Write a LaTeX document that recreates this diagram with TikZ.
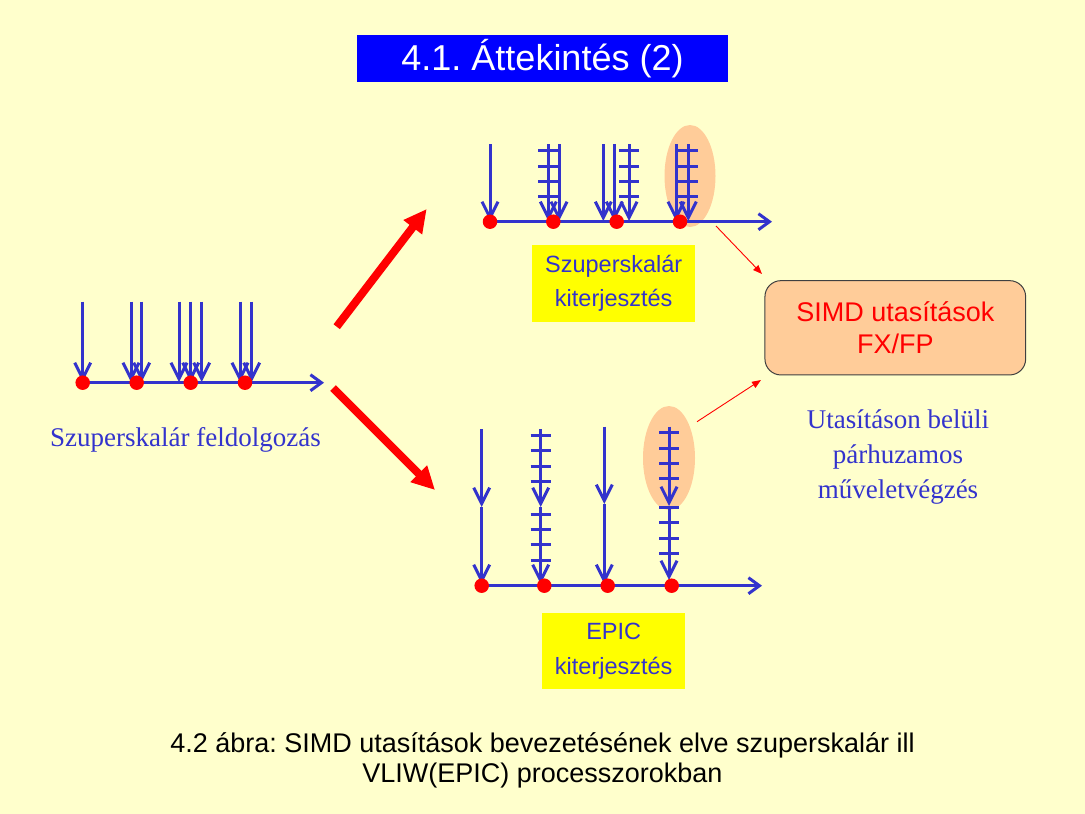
\documentclass[tikz,border=0pt]{standalone}
\usepackage{fontspec}
\setmainfont{Liberation Sans}
\newfontfamily\serifT{Liberation Serif}
\usetikzlibrary{arrows.meta,shapes.geometric}
\definecolor{bgc}{RGB}{255,255,204}
\definecolor{lblue}{RGB}{51,51,204}
\definecolor{peach}{RGB}{255,204,153}
\definecolor{ttlblue}{RGB}{0,0,255}
\definecolor{ylw}{RGB}{255,255,0}
\frenchspacing
\newcommand{\tickset}[2]{\foreach \t in {#2} \draw[tickln] (#1-10,\t) -- (#1+10,\t);}
\begin{document}
\begin{tikzpicture}[x=1pt,y=-1pt,
  bl/.style={draw=lblue,line width=3pt,-{Straight Barb[length=16pt,width=16pt]}},
  axisln/.style={draw=lblue,line width=3pt,-{Straight Barb[length=11pt,width=16pt]}},
  tickln/.style={draw=lblue,line width=3pt},
  dot/.style={circle,fill=red,inner sep=0pt,minimum size=14.5pt},
  hilite/.style={ellipse,fill=peach,inner sep=0pt},
  bigarrow/.style={draw=red,line width=8pt,-{Triangle[length=23pt,width=22pt]}},
  thinarrow/.style={draw=red,line width=0.9pt,-{Triangle[length=9pt,width=7pt]}},
  ybox/.style={fill=ylw,text=lblue,align=center,font=\fontsize{23.5}{34.7}\selectfont},
  bluetext/.style={text=lblue,align=center,font=\serifT\fontsize{27}{35}\selectfont},
]
\fill[bgc] (0,0) rectangle (1085,814);
\useasboundingbox (0,0) rectangle (1085,814);

% title
\node[fill=ttlblue,text=white,minimum width=371pt,minimum height=47pt,inner sep=0pt,
  font=\fontsize{36}{40}\selectfont] (title) at (542.5,58.5) {4.1. Áttekintés (2)};

% ---------- left cluster ----------
\coordinate (las) at (76,382.7);
\coordinate (lae) at (324,382.7);
\draw[axisln] (las) -- (lae);
\foreach \x in {82.7,131,141.7,179,190.7,201.7,240,251.7}
  \draw[bl] (\x,301.7) -- (\x,382);
\node[dot] (l1) at (82.7,382.7) {};
\node[dot] (l2) at (136.7,382.7) {};
\node[dot] (l3) at (190.7,382.7) {};
\node[dot] (l4) at (245,382.7) {};
\node[bluetext] (lbl) at (185.5,440) {Szuperskalár feldolgozás};

% ---------- big red arrows ----------
\coordinate (bu0) at (336.7,326.7);
\coordinate (bu1) at (426.7,209);
\coordinate (bd0) at (333,388);
\coordinate (bd1) at (435,490);
\draw[bigarrow] (bu0) -- (bu1);
\draw[bigarrow] (bd0) -- (bd1);

% ---------- top cluster ----------
\node[hilite,minimum width=51pt,minimum height=102pt] (ell1) at (690,176) {};
\coordinate (tas) at (484,221.7);
\coordinate (tae) at (772,221.7);
\draw[axisln] (tas) -- (tae);
\foreach \x in {490,548.3,559,603.3,614.3,629,676,688.3}
  \draw[bl] (\x,144) -- (\x,221);
\tickset{548.3}{150.7,166,181.3,196.7}
\tickset{629}{150.7,166,181.3,196.7}
\tickset{688.3}{150.7,166,181.3,196.7}
\node[dot] (t1) at (490,221.7) {};
\node[dot] (t2) at (553.3,221.7) {};
\node[dot] (t3) at (616.7,221.7) {};
\node[dot] (t4) at (680,221.7) {};
\node[ybox,minimum width=162.7pt,minimum height=76.7pt,inner sep=0pt] (ytop) at (613.7,283.3)
  {Szuperskalár\\kiterjesztés};

% ---------- bottom cluster ----------
\node[hilite,minimum width=52pt,minimum height=104pt] (ell2) at (669,458) {};
\coordinate (bas) at (476,585.7);
\coordinate (bae) at (762,585.7);
\draw[axisln] (bas) -- (bae);
\draw[bl] (481.7,429) -- (481.7,507);
\draw[bl] (481.7,507) -- (481.7,584);
\draw[bl] (540.7,429) -- (540.7,507);
\draw[bl] (540.7,507) -- (540.7,584);
\tickset{540.7}{435,450.7,466,481.3,514.3,529.3,544.7,560}
\draw[bl] (604.3,426.7) -- (604.3,504);
\draw[bl] (604.3,504) -- (604.3,584);
\draw[bl] (669,426.7) -- (669,506);
\draw[bl] (669,506) -- (669,580);
\tickset{669}{432.7,448,463.3,478.7,507.3,522.7,538,553.3}
\node[dot] (b1) at (481.7,585.7) {};
\node[dot] (b2) at (544.3,585.7) {};
\node[dot] (b3) at (607.7,585.7) {};
\node[dot] (b4) at (671.7,585.7) {};
\node[ybox,minimum width=142.7pt,minimum height=76.7pt,inner sep=0pt] (ybot) at (613.7,651)
  {EPIC\\kiterjesztés};

% ---------- SIMD box ----------
\node[draw=black!75,line width=1pt,fill=peach,rounded corners=16pt,
  minimum width=260.7pt,minimum height=94.3pt,inner sep=0pt,text=red,align=center,
  font=\fontsize{27}{32}\selectfont] (simd) at (895.3,327.8) {SIMD utasítások\\FX/FP};
\coordinate (ta0) at (716,226);
\coordinate (ta1) at (762,274);
\coordinate (tb0) at (697,421.7);
\coordinate (tb1) at (761,380);
\draw[thinarrow] (ta0) -- (ta1);
\draw[thinarrow] (tb0) -- (tb1);
\node[bluetext] (rlbl) at (898,457) {Utasításon belüli\\párhuzamos\\műveletvégzés};

% ---------- caption ----------
\node[align=center,font=\fontsize{27}{30}\selectfont] (cap) at (542.5,760)
  {4.2 ábra: SIMD utasítások bevezetésének elve szuperskalár ill\\VLIW(EPIC) processzorokban};
\end{tikzpicture}
\end{document}
